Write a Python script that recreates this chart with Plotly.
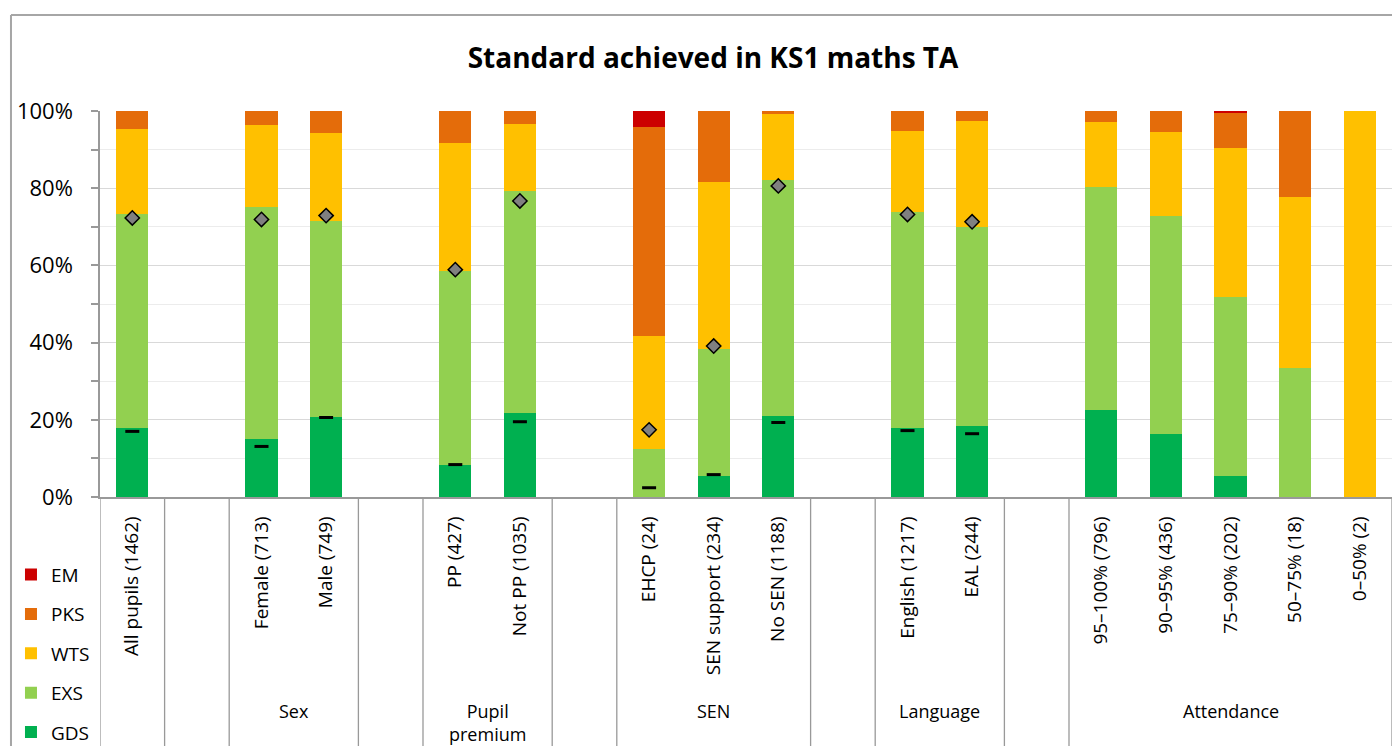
import plotly.graph_objects as go

# ---------------- data ----------------
categories = ["All pupils (1462)", "", "Female (713)", "Male (749)", "",
              "PP (427)", "Not PP (1035)", "",
              "EHCP (24)", "SEN support (234)", "No SEN (1188)", "",
              "English (1217)", "EAL (244)", "",
              "95–100% (796)", "90–95% (436)", "75–90% (202)", "50–75% (18)", "0–50% (2)"]

GDS = [17.9, None, 15.0, 20.7, None, 8.2, 21.8, None, 0.0, 5.4, 21.0, None, 17.9, 18.4, None, 22.6, 16.3, 5.4, 0.0, 0.0]
EXS = [55.4, None, 60.2, 50.7, None, 50.4, 57.5, None, 12.5, 33.0, 61.0, None, 56.0, 51.5, None, 57.8, 56.6, 46.5, 33.3, 0.0]
WTS = [22.0, None, 21.2, 22.9, None, 33.1, 17.4, None, 29.2, 43.1, 17.1, None, 20.9, 27.5, None, 16.8, 21.7, 38.5, 44.4, 100.0]
PKS = [4.7, None, 3.6, 5.7, None, 8.3, 3.3, None, 54.1, 18.5, 0.9, None, 5.2, 2.6, None, 2.8, 5.4, 9.1, 22.2, 0.0]
EM = [0.0, None, 0.0, 0.0, None, 0.0, 0.0, None, 4.2, 0.0, 0.0, None, 0.0, 0.0, None, 0.0, 0.0, 0.5, 0.0, 0.0]

national_exs_plus = [72.3, None, 71.9, 72.9, None, 58.9, 76.7, None, 17.4, 39.1, 80.6, None, 73.2, 71.3, None, None, None, None, None, None]
national_gds = [17.0, None, 13.1, 20.6, None, 8.4, 19.5, None, 2.4, 5.8, 19.3, None, 17.2, 16.4, None, None, None, None, None, None]

group_names = ["", "Sex", "Pupil<br>premium", "SEN", "Language", "Attendance"]
group_first = [0, 2, 5, 8, 12, 15]
group_last = [0, 3, 6, 10, 13, 19]

y_ticks = [0, 20, 40, 60, 80, 100]
y_ticktext = ["0%", "20%", "40%", "60%", "80%", "100%"]

series = [("GDS", GDS, "#00B050"), ("EXS", EXS, "#92D050"), ("WTS", WTS, "#FFC000"),
          ("PKS", PKS, "#E46C0A"), ("EM", EM, "#CC0000")]

FONT = "Open Sans"
xs = list(range(len(categories)))

fig = go.Figure()
n = len(series)
for i, (name, vals, col) in enumerate(series):
    fig.add_trace(go.Bar(x=xs, y=vals, name=name, marker=dict(color=col, line=dict(width=0)),
                         legendgroup=name, legendrank=n - i, width=0.5))

fig.add_trace(go.Scatter(x=xs, y=national_exs_plus, mode="markers", showlegend=False,
                         name="National EXS+",
                         marker=dict(symbol="diamond", size=11, color="#808080",
                                     line=dict(color="#000000", width=1.5))))
fig.add_trace(go.Scatter(x=xs, y=national_gds, mode="markers", showlegend=False,
                         name="National GDS",
                         marker=dict(symbol="line-ew", size=10,
                                     line=dict(color="#000000", width=3))))

# separators below x axis (at group boundaries)
shapes = []
bounds = set()
for a, b in zip(group_first, group_last):
    bounds.add(a - 0.5)
    bounds.add(b + 0.5)
for bx in sorted(bounds):
    shapes.append(dict(type="line", xref="x", yref="paper", x0=bx, x1=bx, y0=0, y1=-0.75,
                       line=dict(color="#999999", width=1.3)))
# outer chart border (left & top)
shapes.append(dict(type="line", xref="paper", yref="paper", x0=-0.0689, x1=-0.0689, y0=1.2487, y1=-0.75,
                   line=dict(color="#a6a6a6", width=2)))
shapes.append(dict(type="line", xref="paper", yref="paper", x0=-0.0689, x1=1.02, y0=1.2487, y1=1.2487,
                   line=dict(color="#a6a6a6", width=2)))

annotations = []
for name, a, b in zip(group_names, group_first, group_last):
    if name:
        annotations.append(dict(x=(a + b) / 2, y=-0.5176, xref="x", yref="paper", text=name,
                                showarrow=False, yanchor="top", xanchor="center",
                                font=dict(family=FONT, size=18, color="#000000")))

fig.update_layout(
    width=1384, height=738,
    margin=dict(l=92, r=0, t=103, b=249, autoexpand=False),
    paper_bgcolor="white", plot_bgcolor="white",
    barmode="stack",
    title=dict(text="<b>Standard achieved in KS1 maths TA</b>", x=0.5094, xanchor="center",
               y=0.9322, yanchor="middle",
               font=dict(family=FONT, size=28, color="#000000")),
    font=dict(family=FONT, size=19, color="#000000"),
    showlegend=True,
    legend=dict(traceorder="grouped", tracegroupgap=11.7, x=-0.0689, xanchor="left",
                y=-0.152, yanchor="top", font=dict(family=FONT, size=19, color="#000000"),
                bgcolor="rgba(0,0,0,0)", itemclick=False),
    xaxis=dict(range=[-0.5, len(categories) - 0.5], tickmode="array", tickvals=xs,
               ticktext=categories, tickangle=-90, ticks="", showgrid=False,
               showline=True, linecolor="#999999", linewidth=1.5, zeroline=False,
               ticklabelstandoff=10, tickfont=dict(family=FONT, size=19, color="#000000")),
    yaxis=dict(range=[0, 100], tickmode="array", tickvals=y_ticks, ticktext=y_ticktext,
               showgrid=True, gridcolor="#d9d9d9", gridwidth=1.3,
               showline=True, linecolor="#999999", linewidth=1.5,
               ticks="outside", ticklen=7, tickcolor="#999999", tickwidth=1.5,
               minor=dict(dtick=10, tick0=0, showgrid=True, gridcolor="#ececec", gridwidth=1.3,
                          ticks="outside", ticklen=7, tickcolor="#999999", tickwidth=1.5),
               zeroline=False, ticklabelstandoff=14,
               tickfont=dict(family=FONT, size=22, color="#000000")),
    shapes=shapes,
    annotations=annotations,
)

fig.write_html("out.html")
